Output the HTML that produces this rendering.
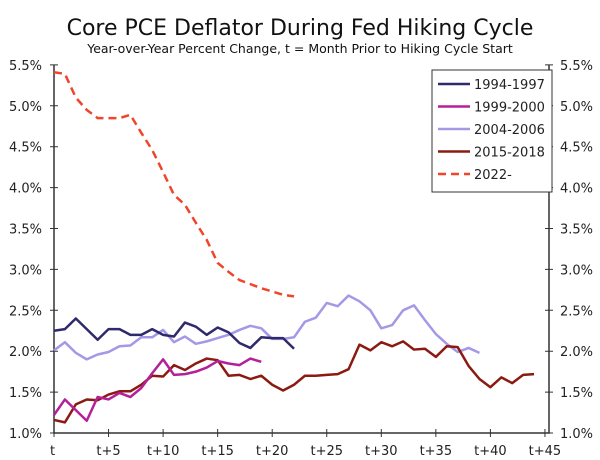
<!DOCTYPE html>
<html><head><meta charset="utf-8"><style>
body{margin:0;background:#fff;}
svg{display:block;font-family:"DejaVu Sans","Liberation Sans",sans-serif;}
</style></head><body>
<svg id="c" width="600" height="460"></svg>
<script>
const months=[];for(let i=0;i<=45;i++)months.push(i);
const s1994=[2.25,2.27,2.40,2.27,2.14,2.27,2.27,2.20,2.20,2.27,2.20,2.18,2.35,2.30,2.20,2.29,2.23,2.10,2.04,2.17,2.16,2.16,2.03];
const s1999=[1.22,1.41,1.28,1.15,1.44,1.41,1.49,1.44,1.55,1.73,1.90,1.71,1.72,1.75,1.80,1.88,1.85,1.83,1.91,1.87];
const s2004=[2.01,2.11,1.98,1.90,1.96,1.99,2.06,2.07,2.17,2.17,2.26,2.11,2.18,2.09,2.12,2.16,2.20,2.26,2.31,2.28,2.15,2.15,2.17,2.36,2.41,2.59,2.55,2.68,2.61,2.50,2.28,2.32,2.50,2.56,2.38,2.21,2.09,1.99,2.04,1.98];
const s2015=[1.16,1.13,1.35,1.41,1.40,1.47,1.51,1.51,1.59,1.70,1.69,1.83,1.77,1.85,1.91,1.89,1.70,1.71,1.66,1.70,1.59,1.52,1.59,1.70,1.70,1.71,1.72,1.78,2.08,2.01,2.11,2.06,2.12,2.02,2.03,1.93,2.06,2.05,1.82,1.66,1.56,1.68,1.61,1.71,1.72];
const s2022=[5.41,5.39,5.10,4.95,4.85,4.85,4.85,4.89,4.67,4.46,4.19,3.91,3.79,3.57,3.36,3.08,2.97,2.87,2.82,2.77,2.73,2.69,2.67];
const yTicks=[1.0,1.5,2.0,2.5,3.0,3.5,4.0,4.5,5.0,5.5];
const xTickLabels=["t","t+5","t+10","t+15","t+20","t+25","t+30","t+35","t+40","t+45"];
const seriesNames=["1994-1997","1999-2000","2004-2006","2015-2018","2022-"];

const NS="http://www.w3.org/2000/svg",svg=document.getElementById('c');
const X=m=>54+m*10.91, Y=v=>433-(v-1)*81.8;
function el(t,a,p){const e=document.createElementNS(NS,t);for(const k in a)e.setAttribute(k,a[k]);(p||svg).appendChild(e);return e;}
let t=el('text',{x:300,y:35,'text-anchor':'middle','font-size':22,fill:'#111'});t.textContent="Core PCE Deflator During Fed Hiking Cycle";

t=el('text',{x:300,y:53,'text-anchor':'middle','font-size':12.5,fill:'#111'});t.textContent="Year-over-Year Percent Change, t = Month Prior to Hiking Cycle Start";

let ax=el('path',{d:`M54 65V433H549V65`,stroke:'#333','stroke-width':1.5,fill:'none'});

yTicks.forEach(v=>{const y=Y(v);el('path',{d:`M50 ${y}H58M545 ${y}H553`,stroke:'#333'});
 let a=el('text',{x:42,y:y+5,'text-anchor':'end','font-size':13,fill:'#222'});a.textContent=v.toFixed(1)+'%';
 
 let b=el('text',{x:560,y:y+5,'font-size':13,fill:'#222'});b.textContent=v.toFixed(1)+'%';
 });
xTickLabels.forEach((l,i)=>{const x=X(i*5);el('path',{d:`M${x} 429V437`,stroke:'#333'});
 let a=el('text',{x:i==0?x-4:x,y:455,'text-anchor':i==0?'start':'middle','font-size':13,fill:'#222'});a.textContent=l;
 });
function line(data,color,name,dash){const d=data.map((v,i)=>(i?'L':'M')+X(months[i])+' '+Y(v)).join('');
 const p=el('path',{d,stroke:color,'stroke-width':2.5,fill:'none','stroke-linejoin':'round'});if(dash)p.setAttribute('stroke-dasharray','8 5');
 }
const colors=['#2e2a6b','#b5209a','#a399e6','#8b1a10','#f0452a'];
line(s2004,colors[2],'line-2004-2006');line(s1994,colors[0],'line-1994-1997');
line(s2015,colors[3],'line-2015-2018');line(s1999,colors[1],'line-1999-2000');line(s2022,colors[4],'line-2022',true);
const lg=el('g',{});
el('rect',{x:432,y:70,width:120,height:122,fill:'#fff',stroke:'#333'},lg);
seriesNames.forEach((n,i)=>{const y=84+i*22.5;const l=el('line',{x1:438,x2:470,y1:y,y2:y,stroke:colors[i],'stroke-width':2.5},lg);
 if(i==4)l.setAttribute('stroke-dasharray','8 5');
 const tx=el('text',{x:474,y:y+5,'font-size':13,fill:'#222'},lg);tx.textContent=n;
 });
</script></body></html>
